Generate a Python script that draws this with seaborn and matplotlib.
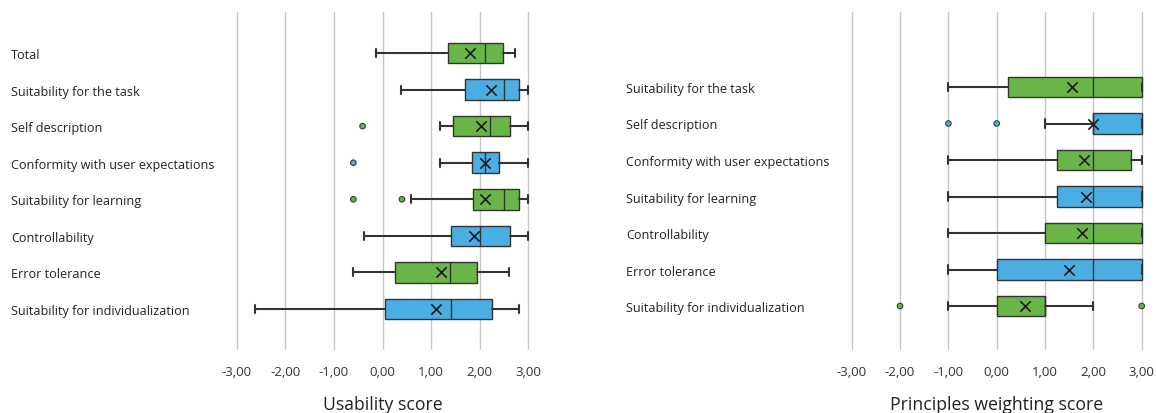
import matplotlib
matplotlib.use("Agg")
import matplotlib.pyplot as plt
import seaborn as sns
import pandas as pd

sns.set_theme(style="white")
plt.rcParams['font.family'] = ['Open Sans', 'DejaVu Sans']

GREEN = "#6ab547"
BLUE = "#4aaee3"
EDGE = "#333333"

# ---------------- Left panel: Usability score ----------------
left_categories = ["Total", "Suitability for the task", "Self description",
                   "Conformity with user expectations", "Suitability for learning",
                   "Controllability", "Error tolerance", "Suitability for individualization"]
left_whislo = [-0.14, 0.39, 1.19, 1.19, 0.58, -0.39, -0.61, -2.62]
left_q1 = [1.34, 1.69, 1.45, 1.84, 1.86, 1.40, 0.25, 0.05]
left_med = [2.10, 2.51, 2.21, 2.10, 2.51, 2.00, 1.39, 1.41]
left_q3 = [2.47, 2.81, 2.62, 2.40, 2.81, 2.62, 1.95, 2.26]
left_whishi = [2.72, 3.00, 3.00, 3.00, 3.00, 3.00, 2.61, 2.81]
left_mean = [1.81, 2.24, 2.02, 2.10, 2.11, 1.88, 1.20, 1.11]
left_outliers = [[], [], [-0.41], [-0.60], [-0.60, 0.40], [], [], []]
left_colors = [GREEN, BLUE, GREEN, BLUE, GREEN, BLUE, GREEN, BLUE]

# ---------------- Right panel: Principles weighting score ----------------
right_categories = ["Suitability for the task", "Self description",
                    "Conformity with user expectations", "Suitability for learning",
                    "Controllability", "Error tolerance", "Suitability for individualization"]
right_whislo = [-1.00, 1.00, -1.00, -1.00, -1.00, -1.00, -1.00]
right_q1 = [0.24, 2.00, 1.25, 1.25, 1.00, 0.00, 0.00]
right_med = [2.00, 2.00, 2.00, 2.00, 2.00, 2.00, 1.00]
right_q3 = [3.00, 3.00, 2.77, 3.00, 3.00, 3.00, 1.00]
right_whishi = [3.00, 3.00, 3.00, 3.00, 3.00, 3.00, 2.00]
right_mean = [1.55, 2.00, 1.81, 1.85, 1.76, 1.50, 0.59]
right_outliers = [[], [-1.00, 0.00], [], [], [], [], [-2.00, 3.00]]
right_colors = [GREEN, BLUE, GREEN, BLUE, GREEN, BLUE, GREEN]

xticks = [-3, -2, -1, 0, 1, 2, 3]
xtick_labels = ["-3,00", "-2,00", "-1,00", "0,00", "1,00", "2,00", "3,00"]

W, H = 1156, 414
fig = plt.figure(figsize=(W / 100, H / 100), dpi=100)
fig.patch.set_facecolor("white")

XL = (-3.1, 3.1)


def px_axes(x0, x1, y0, y1):
    return fig.add_axes([x0 / W, 1 - y1 / H, (x1 - x0) / W, (y1 - y0) / H])


def draw_panel(ax, cats, positions, whislo, q1, med, q3, whishi, means, outliers, colors,
               ylim, xlabel, label_left_px, ax_left_px):
    stats = []
    for i in range(len(cats)):
        stats.append(dict(whislo=whislo[i], q1=q1[i], med=med[i], q3=q3[i],
                          whishi=whishi[i], fliers=[], label=cats[i]))
    bp = ax.bxp(stats, positions=positions, widths=0.56, orientation="horizontal",
                patch_artist=True, showfliers=False, showmeans=False, capwidths=0.22,
                boxprops=dict(edgecolor=EDGE, linewidth=1.0),
                medianprops=dict(color=EDGE, linewidth=1.0),
                whiskerprops=dict(color=EDGE, linewidth=1.5),
                capprops=dict(color=EDGE, linewidth=1.5))
    for patch, c in zip(bp["boxes"], colors):
        patch.set_facecolor(c)
        patch.set_zorder(3)
    for key in ("medians", "whiskers", "caps"):
        for a in bp[key]:
            a.set_zorder(3)

    mean_df = pd.DataFrame({"value": means, "pos": positions})
    sns.scatterplot(data=mean_df, x="value", y="pos", marker="x", color="#1a1a1a",
                    s=55, linewidth=1.2, ax=ax, zorder=5, legend=False)

    ox, oy, oc = [], [], []
    for i, outs in enumerate(outliers):
        for v in outs:
            ox.append(v)
            oy.append(positions[i])
            oc.append(colors[i])
    if ox:
        out_df = pd.DataFrame({"value": ox, "pos": oy, "col": oc})
        sns.scatterplot(data=out_df, x="value", y="pos", hue="col",
                        palette={GREEN: GREEN, BLUE: BLUE}, s=16,
                        edgecolor="#3a3a3a", linewidth=0.8, ax=ax, zorder=5, legend=False)

    ax.set_xlim(*XL)
    ax.set_ylim(*ylim)
    ax.set_xticks(xticks)
    ax.set_xticklabels(xtick_labels, fontsize=9.5, color="#333333")
    ax.set_yticks(positions)
    ax.set_yticklabels(cats, fontsize=9.1, color="#222222", ha="left")
    pad_pt = (ax_left_px - label_left_px) * 0.72
    ax.tick_params(axis="y", length=0, pad=pad_pt)
    ax.tick_params(axis="x", length=0, pad=11)
    ax.grid(axis="x", color="#c6c6c6", linewidth=1.0)
    ax.grid(axis="y", visible=False)
    ax.set_axisbelow(True)
    for s in ax.spines.values():
        s.set_visible(False)
    ax.set_facecolor("white")
    ax.set_ylabel("")
    ax.set_xlabel(xlabel, fontsize=12.7, color="#222222", va="center")
    ax.xaxis.set_label_coords(0.5, -54 / 338)


# left axes: x -3..3 at 236.7..528.3 px
lu = (528.3 - 236.7) / 6
l_x0 = 236.7 - 0.1 * lu
l_x1 = 528.3 + 0.1 * lu
axL = px_axes(l_x0, l_x1, 13, 351)
left_pos = list(range(len(left_categories)))
# rows: y_px = 54 + 36.57 * v
lylim = ((351 - 54) / 36.57, (13 - 54) / 36.57)
draw_panel(axL, left_categories, left_pos, left_whislo, left_q1, left_med, left_q3,
           left_whishi, left_mean, left_outliers, left_colors, lylim,
           "Usability score", 11, l_x0)

ru = (1141.7 - 851.7) / 6
r_x0 = 851.7 - 0.1 * ru
r_x1 = 1141.7 + 0.1 * ru
axR = px_axes(r_x0, r_x1, 13, 351)
right_pos = list(range(1, len(right_categories) + 1))
# rows: y_px = 51.5 + 36.5 * v
rylim = ((351 - 51.5) / 36.5, (13 - 51.5) / 36.5)
draw_panel(axR, right_categories, right_pos, right_whislo, right_q1, right_med, right_q3,
           right_whishi, right_mean, right_outliers, right_colors, rylim,
           "Principles weighting score", 626, r_x0)

fig.savefig("out.png", dpi=100, facecolor="white")
